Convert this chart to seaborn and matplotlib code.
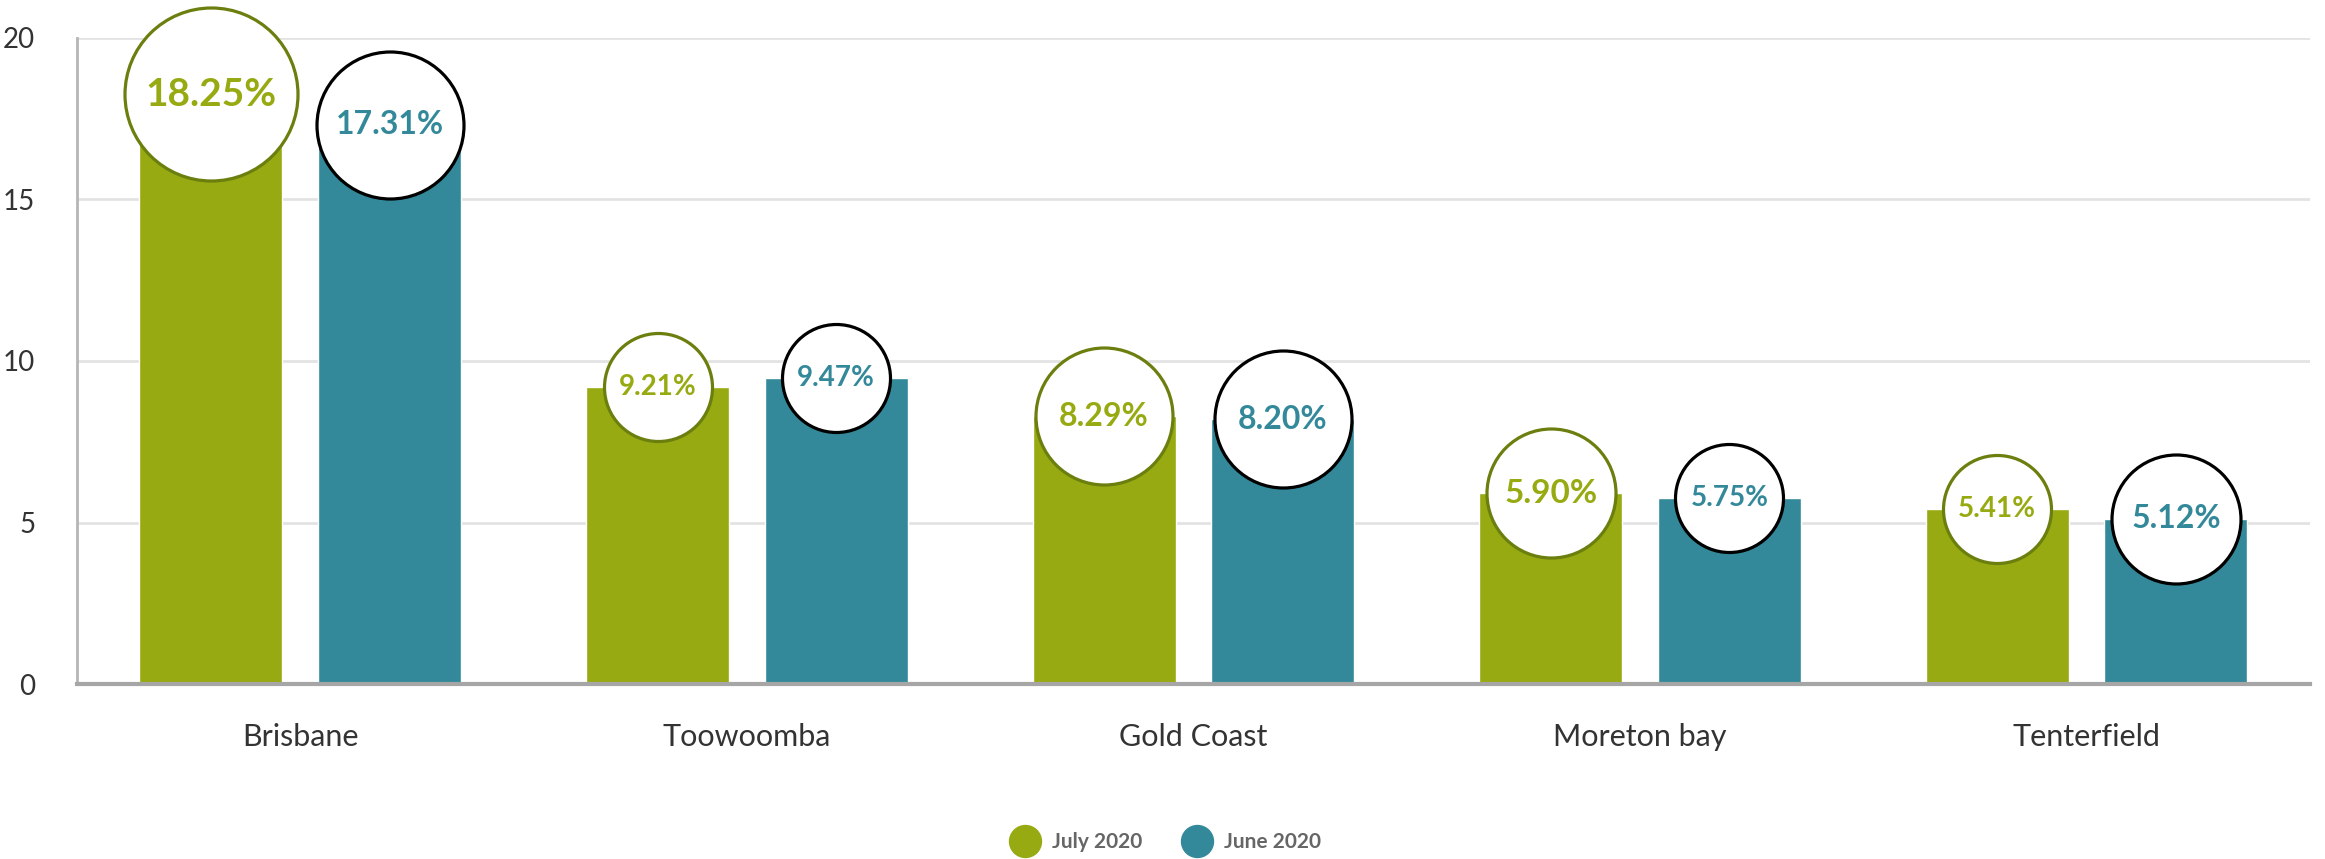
import pandas as pd
import seaborn as sns
import matplotlib.pyplot as plt
from matplotlib.lines import Line2D

regions = ['Brisbane', 'Toowoomba', 'Gold Coast', 'Moreton bay', 'Tenterfield']
july = [18.25, 9.21, 8.29, 5.90, 5.41]
june = [17.31, 9.47, 8.20, 5.75, 5.12]
series = ['July 2020', 'June 2020']

# bubble diameters (px) and label sizes
bubble_px = [[173, 108, 137, 129, 108], [147, 108, 137, 108, 129]]
label_pt = [[28, 20, 23, 24, 20], [23, 20, 23, 20, 23]]

bar_colors = ['#97aa11', '#33899a']
edge_colors = ['#6b7f0e', '#000000']

df = pd.DataFrame({
    'region': regions * 2,
    'value': july + june,
    'series': [series[0]] * len(regions) + [series[1]] * len(regions),
})

sns.set_style('white')
plt.rcParams['font.family'] = ['Lato', 'DejaVu Sans']

fig = plt.figure(figsize=(23.25, 8.59), dpi=100)
ax = fig.add_axes([0.0331, 0.2037, 0.9604, 0.7521])

sns.barplot(data=df, x='region', y='value', hue='series', palette=bar_colors,
            width=0.8, gap=0.2, saturation=1, legend=False, ax=ax, zorder=2)

ax.set_ylim(0, 20)
ax.set_xlim(-0.5, len(regions) - 0.5)
ax.set_yticks([0, 5, 10, 15, 20])
ax.yaxis.grid(True, color='#e3e3e3', linewidth=2)
ax.set_axisbelow(True)
ax.set_xlabel('')
ax.set_ylabel('')
for s in ['top', 'right']:
    ax.spines[s].set_visible(False)
ax.spines['left'].set_color('#b5b5b5')
ax.spines['left'].set_linewidth(2)
ax.spines['bottom'].set_color('#a6a6a6')
ax.spines['bottom'].set_linewidth(3)
ax.tick_params(axis='y', length=0, pad=30, labelsize=20, labelcolor='#333333')
ax.tick_params(axis='x', length=0, pad=28, labelsize=22, labelcolor='#333333')

# bubbles with labels sitting on top of each bar
for si, cont in enumerate(ax.containers):
    for bi, bar in enumerate(cont):
        cx = bar.get_x() + bar.get_width() / 2
        cy = bar.get_height()
        d = bubble_px[si][bi] * 0.72
        ax.scatter([cx], [cy], s=d ** 2, facecolor='white', edgecolor=edge_colors[si],
                   linewidth=2.3, zorder=4, clip_on=False)
        ax.text(cx, cy, f'{cy:.2f}%', ha='center', va='center', fontsize=label_pt[si][bi],
                color=bar_colors[si], zorder=5, fontweight='bold')

handles = [Line2D([], [], marker='o', linestyle='', markersize=23,
                  markerfacecolor=c, markeredgecolor=c) for c in bar_colors]
fig.legend(handles, series, loc='center', bbox_to_anchor=(0.5, 0.02), ncol=2, frameon=False,
           handletextpad=0.3, columnspacing=1.6,
           prop={'weight': 'bold', 'size': 15})
for t in fig.legends[0].get_texts():
    t.set_color('#666666')

fig.savefig('out.png', dpi=100)
